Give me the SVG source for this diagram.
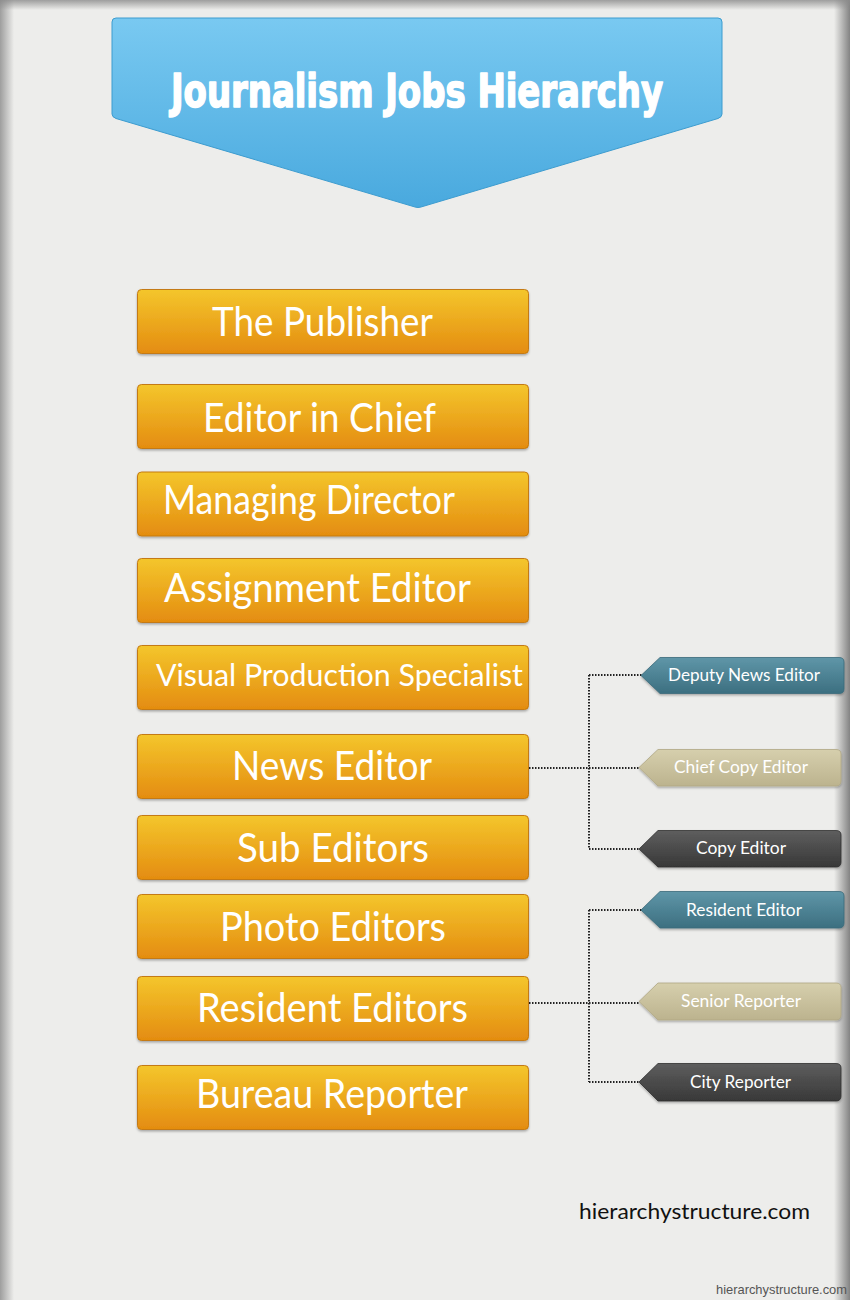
<svg xmlns="http://www.w3.org/2000/svg" width="850" height="1300" viewBox="0 0 850 1300">
<defs>
<linearGradient id="gOrange" x1="0" y1="0" x2="0" y2="1">
<stop offset="0" stop-color="#f4c62c"/>
<stop offset="1" stop-color="#e48c10"/>
</linearGradient>
<linearGradient id="gBlue" x1="0" y1="0" x2="0" y2="1">
<stop offset="0" stop-color="#79c9f1"/>
<stop offset="1" stop-color="#49a9de"/>
</linearGradient>
<linearGradient id="gTeal" x1="0" y1="0" x2="0" y2="1">
<stop offset="0" stop-color="#5f96a8"/>
<stop offset="1" stop-color="#3c6f80"/>
</linearGradient>
<linearGradient id="gBeige" x1="0" y1="0" x2="0" y2="1">
<stop offset="0" stop-color="#d6cfad"/>
<stop offset="1" stop-color="#bcb38e"/>
</linearGradient>
<linearGradient id="gDark" x1="0" y1="0" x2="0" y2="1">
<stop offset="0" stop-color="#5e5e5e"/>
<stop offset="1" stop-color="#383838"/>
</linearGradient>
<linearGradient id="edgeL" x1="0" y1="0" x2="1" y2="0">
<stop offset="0" stop-color="#8a8a8a" stop-opacity="0.8"/>
<stop offset="1" stop-color="#8a8a8a" stop-opacity="0"/>
</linearGradient>
<linearGradient id="edgeR" x1="1" y1="0" x2="0" y2="0">
<stop offset="0" stop-color="#777" stop-opacity="0.9"/>
<stop offset="1" stop-color="#777" stop-opacity="0"/>
</linearGradient>
<linearGradient id="edgeT" x1="0" y1="0" x2="0" y2="1">
<stop offset="0" stop-color="#8a8a8a" stop-opacity="0.8"/>
<stop offset="1" stop-color="#8a8a8a" stop-opacity="0"/>
</linearGradient>
<filter id="sh" x="-5%" y="-10%" width="110%" height="130%">
<feDropShadow dx="0" dy="1.5" stdDeviation="1" flood-color="#000" flood-opacity="0.3"/>
</filter>
</defs>
<style>
.box{fill:url(#gOrange);stroke:#c47a12;stroke-width:1;filter:url(#sh)}
.bt{font-family:Lato,"Open Sans","Liberation Sans",sans-serif;font-size:40px;fill:#fff}
.tt{font-family:Lato,"Open Sans","Liberation Sans",sans-serif;font-size:17px;fill:#fff}
.teal{fill:url(#gTeal);stroke:#3a6a7a;stroke-width:0.8;filter:url(#sh)}
.beige{fill:url(#gBeige);stroke:#b0a784;stroke-width:0.8;filter:url(#sh)}
.dark{fill:url(#gDark);stroke:#2e2e2e;stroke-width:0.8;filter:url(#sh)}
.con{fill:none;stroke:#222;stroke-width:2;stroke-dasharray:1.5 1.5}
</style>
<rect x="0" y="0" width="850" height="1300" fill="#ededeb"/>
<rect x="0" y="0" width="14" height="1300" fill="url(#edgeL)"/>
<rect x="834" y="0" width="16" height="1300" fill="url(#edgeR)"/>
<rect x="0" y="0" width="850" height="10" fill="url(#edgeT)"/>

<g id="title">
<path d="M116,18 H718 Q722,18 722,22 V114 Q722,117 718,118.5 L421,207 Q418,208 415,207 L116,118.5 Q112,117 112,114 V22 Q112,18 116,18 Z" fill="url(#gBlue)" stroke="#3d9ccf" stroke-width="1"/>
<text x="171" y="107" textLength="492" lengthAdjust="spacingAndGlyphs" font-family="'Liberation Sans Narrow','DejaVu Sans Condensed','Liberation Sans',sans-serif" font-weight="bold" font-size="47" fill="#fff" stroke="#fff" stroke-width="1.6" stroke-linejoin="round">Journalism Jobs Hierarchy</text>
</g>

<g id="connectors">
<path class="con" d="M529,768 H640 M589,675 V849 M589,675 H642 M589,849 H640"/>
<path class="con" d="M529,1003 H640 M589,910 V1082 M589,910 H642 M589,1082 H640"/>
</g>

<g id="n1"><rect class="box" x="137.5" y="289.5" width="391" height="64" rx="4"/><text class="bt" x="212" y="336" textLength="221" lengthAdjust="spacingAndGlyphs">The Publisher</text></g>
<g id="n2"><rect class="box" x="137.5" y="384.5" width="391" height="64" rx="4"/><text class="bt" x="203" y="432" textLength="233" lengthAdjust="spacingAndGlyphs">Editor in Chief</text></g>
<g id="n3"><rect class="box" x="137.5" y="472" width="391" height="64" rx="4"/><text class="bt" x="163" y="514" textLength="292" lengthAdjust="spacingAndGlyphs">Managing Director</text></g>
<g id="n4"><rect class="box" x="137.5" y="558.5" width="391" height="64" rx="4"/><text class="bt" x="164" y="602" textLength="307" lengthAdjust="spacingAndGlyphs">Assignment Editor</text></g>
<g id="n5"><rect class="box" x="137.5" y="645.5" width="391" height="64" rx="4"/><text class="bt" x="156" y="686" style="font-size:31px" textLength="367" lengthAdjust="spacingAndGlyphs">Visual Production Specialist</text></g>
<g id="n6"><rect class="box" x="137.5" y="734.5" width="391" height="64" rx="4"/><text class="bt" x="232" y="780" textLength="200" lengthAdjust="spacingAndGlyphs">News Editor</text></g>
<g id="n7"><rect class="box" x="137.5" y="815.5" width="391" height="64" rx="4"/><text class="bt" x="237" y="862" textLength="192" lengthAdjust="spacingAndGlyphs">Sub Editors</text></g>
<g id="n8"><rect class="box" x="137.5" y="894.5" width="391" height="64" rx="4"/><text class="bt" x="220" y="941" textLength="226" lengthAdjust="spacingAndGlyphs">Photo Editors</text></g>
<g id="n9"><rect class="box" x="137.5" y="976.5" width="391" height="64" rx="4"/><text class="bt" x="197" y="1022" textLength="271" lengthAdjust="spacingAndGlyphs">Resident Editors</text></g>
<g id="n10"><rect class="box" x="137.5" y="1065.5" width="391" height="64" rx="4"/><text class="bt" x="196" y="1108" textLength="272" lengthAdjust="spacingAndGlyphs">Bureau Reporter</text></g>

<g id="t1"><path class="teal" d="M641,675.5 L660,657.5 H839 Q844,657.5 844,662 V689 Q844,693.5 839,693.5 H660 Z"/><text class="tt" x="668" y="681" textLength="152" lengthAdjust="spacingAndGlyphs">Deputy News Editor</text></g>
<g id="t2"><path class="beige" d="M639,767.5 L658,749.5 H836 Q841,749.5 841,754 V781 Q841,786 836,786 H658 Z"/><text class="tt" x="674" y="773" textLength="134" lengthAdjust="spacingAndGlyphs">Chief Copy Editor</text></g>
<g id="t3"><path class="dark" d="M639,849 L658,830.5 H836 Q841,830.5 841,835 V862 Q841,867 836,867 H658 Z"/><text class="tt" x="696" y="854" textLength="90" lengthAdjust="spacingAndGlyphs">Copy Editor</text></g>
<g id="t4"><path class="teal" d="M641,910 L660,891.5 H839 Q844,891.5 844,896 V923 Q844,928 839,928 H660 Z"/><text class="tt" x="686" y="916" textLength="116" lengthAdjust="spacingAndGlyphs">Resident Editor</text></g>
<g id="t5"><path class="beige" d="M639,1001.5 L658,983 H836 Q841,983 841,987.5 V1015 Q841,1020 836,1020 H658 Z"/><text class="tt" x="681" y="1007" textLength="120" lengthAdjust="spacingAndGlyphs">Senior Reporter</text></g>
<g id="t6"><path class="dark" d="M639,1082 L658,1063.5 H836 Q841,1063.5 841,1068 V1096 Q841,1101 836,1101 H658 Z"/><text class="tt" x="690" y="1088" textLength="101" lengthAdjust="spacingAndGlyphs">City Reporter</text></g>

<text x="579" y="1219" textLength="231" lengthAdjust="spacingAndGlyphs" font-family="Lato,'Open Sans','Liberation Sans',sans-serif" font-size="22" fill="#111">hierarchystructure.com</text>
<text x="716" y="1294" textLength="131" lengthAdjust="spacingAndGlyphs" font-family="'Liberation Sans',Arial,sans-serif" font-size="13" fill="#555">hierarchystructure.com</text>
</svg>
